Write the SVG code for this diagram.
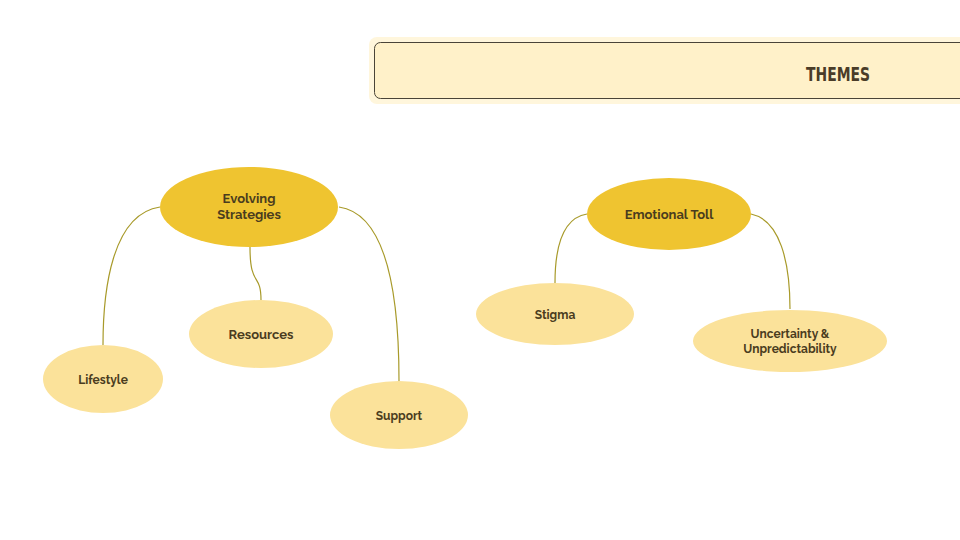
<svg xmlns="http://www.w3.org/2000/svg" width="960" height="540" viewBox="0 0 960 540">
<defs>
<style>
.main{fill:#efc430;}
.sub{fill:#fbe29a;}
.lbl{font-family:"Raleway","Lato","Open Sans",sans-serif;font-weight:bold;font-size:13px;fill:#4a3c1e;text-anchor:middle;}
.conn path{fill:none;stroke:#a89a2a;stroke-width:1.2;}
</style>
</defs>
<rect width="960" height="540" fill="#ffffff"/>
<g id="header">
<rect x="369" y="37" width="600" height="67" rx="8" fill="#fff6dc"/>
<rect x="374.5" y="42.5" width="600" height="56" rx="6" fill="#fff1c9" stroke="#4a4438" stroke-width="1"/>
<text x="838" y="81" font-family="DejaVu Sans Condensed, DejaVu Sans, sans-serif" font-stretch="condensed" font-weight="bold" font-size="20" fill="#4a3c28" text-anchor="middle" textLength="64" lengthAdjust="spacingAndGlyphs">THEMES</text>
</g>
<g class="conn" id="connectors">
<path d="M160,207 C112,214 103,290 103,345"/>
<path d="M250,247 C250,288 261,272 261,300"/>
<path d="M339,207 C388,214 399,300 399,381"/>
<path d="M587,214 C562,218 555,250 555,283"/>
<path d="M751,214 C780,220 790,262 790,309"/>
</g>
<g id="evolving">
<ellipse class="main" cx="249" cy="207" rx="89" ry="40"/>
<text class="lbl" x="249" y="203">Evolving</text>
<text class="lbl" x="249" y="219">Strategies</text>
</g>
<g id="emotional">
<ellipse class="main" cx="669" cy="214" rx="82" ry="36"/>
<text class="lbl" x="669" y="219">Emotional Toll</text>
</g>
<g id="resources">
<ellipse class="sub" cx="261" cy="334" rx="72" ry="34"/>
<text class="lbl" x="261" y="339" font-size="12">Resources</text>
</g>
<g id="lifestyle">
<ellipse class="sub" cx="103" cy="379" rx="60" ry="34"/>
<text class="lbl" x="103" y="384" style="font-size:12px">Lifestyle</text>
</g>
<g id="support">
<ellipse class="sub" cx="399" cy="415" rx="69" ry="34"/>
<text class="lbl" x="399" y="420" style="font-size:12px">Support</text>
</g>
<g id="stigma">
<ellipse class="sub" cx="555" cy="314" rx="79" ry="31"/>
<text class="lbl" x="555" y="319" style="font-size:12px">Stigma</text>
</g>
<g id="uncertainty">
<ellipse class="sub" cx="790" cy="341" rx="97" ry="31"/>
<text class="lbl" x="790" y="338" style="font-size:12px">Uncertainty &amp;</text>
<text class="lbl" x="790" y="353" style="font-size:12px">Unpredictability</text>
</g>
</svg>
